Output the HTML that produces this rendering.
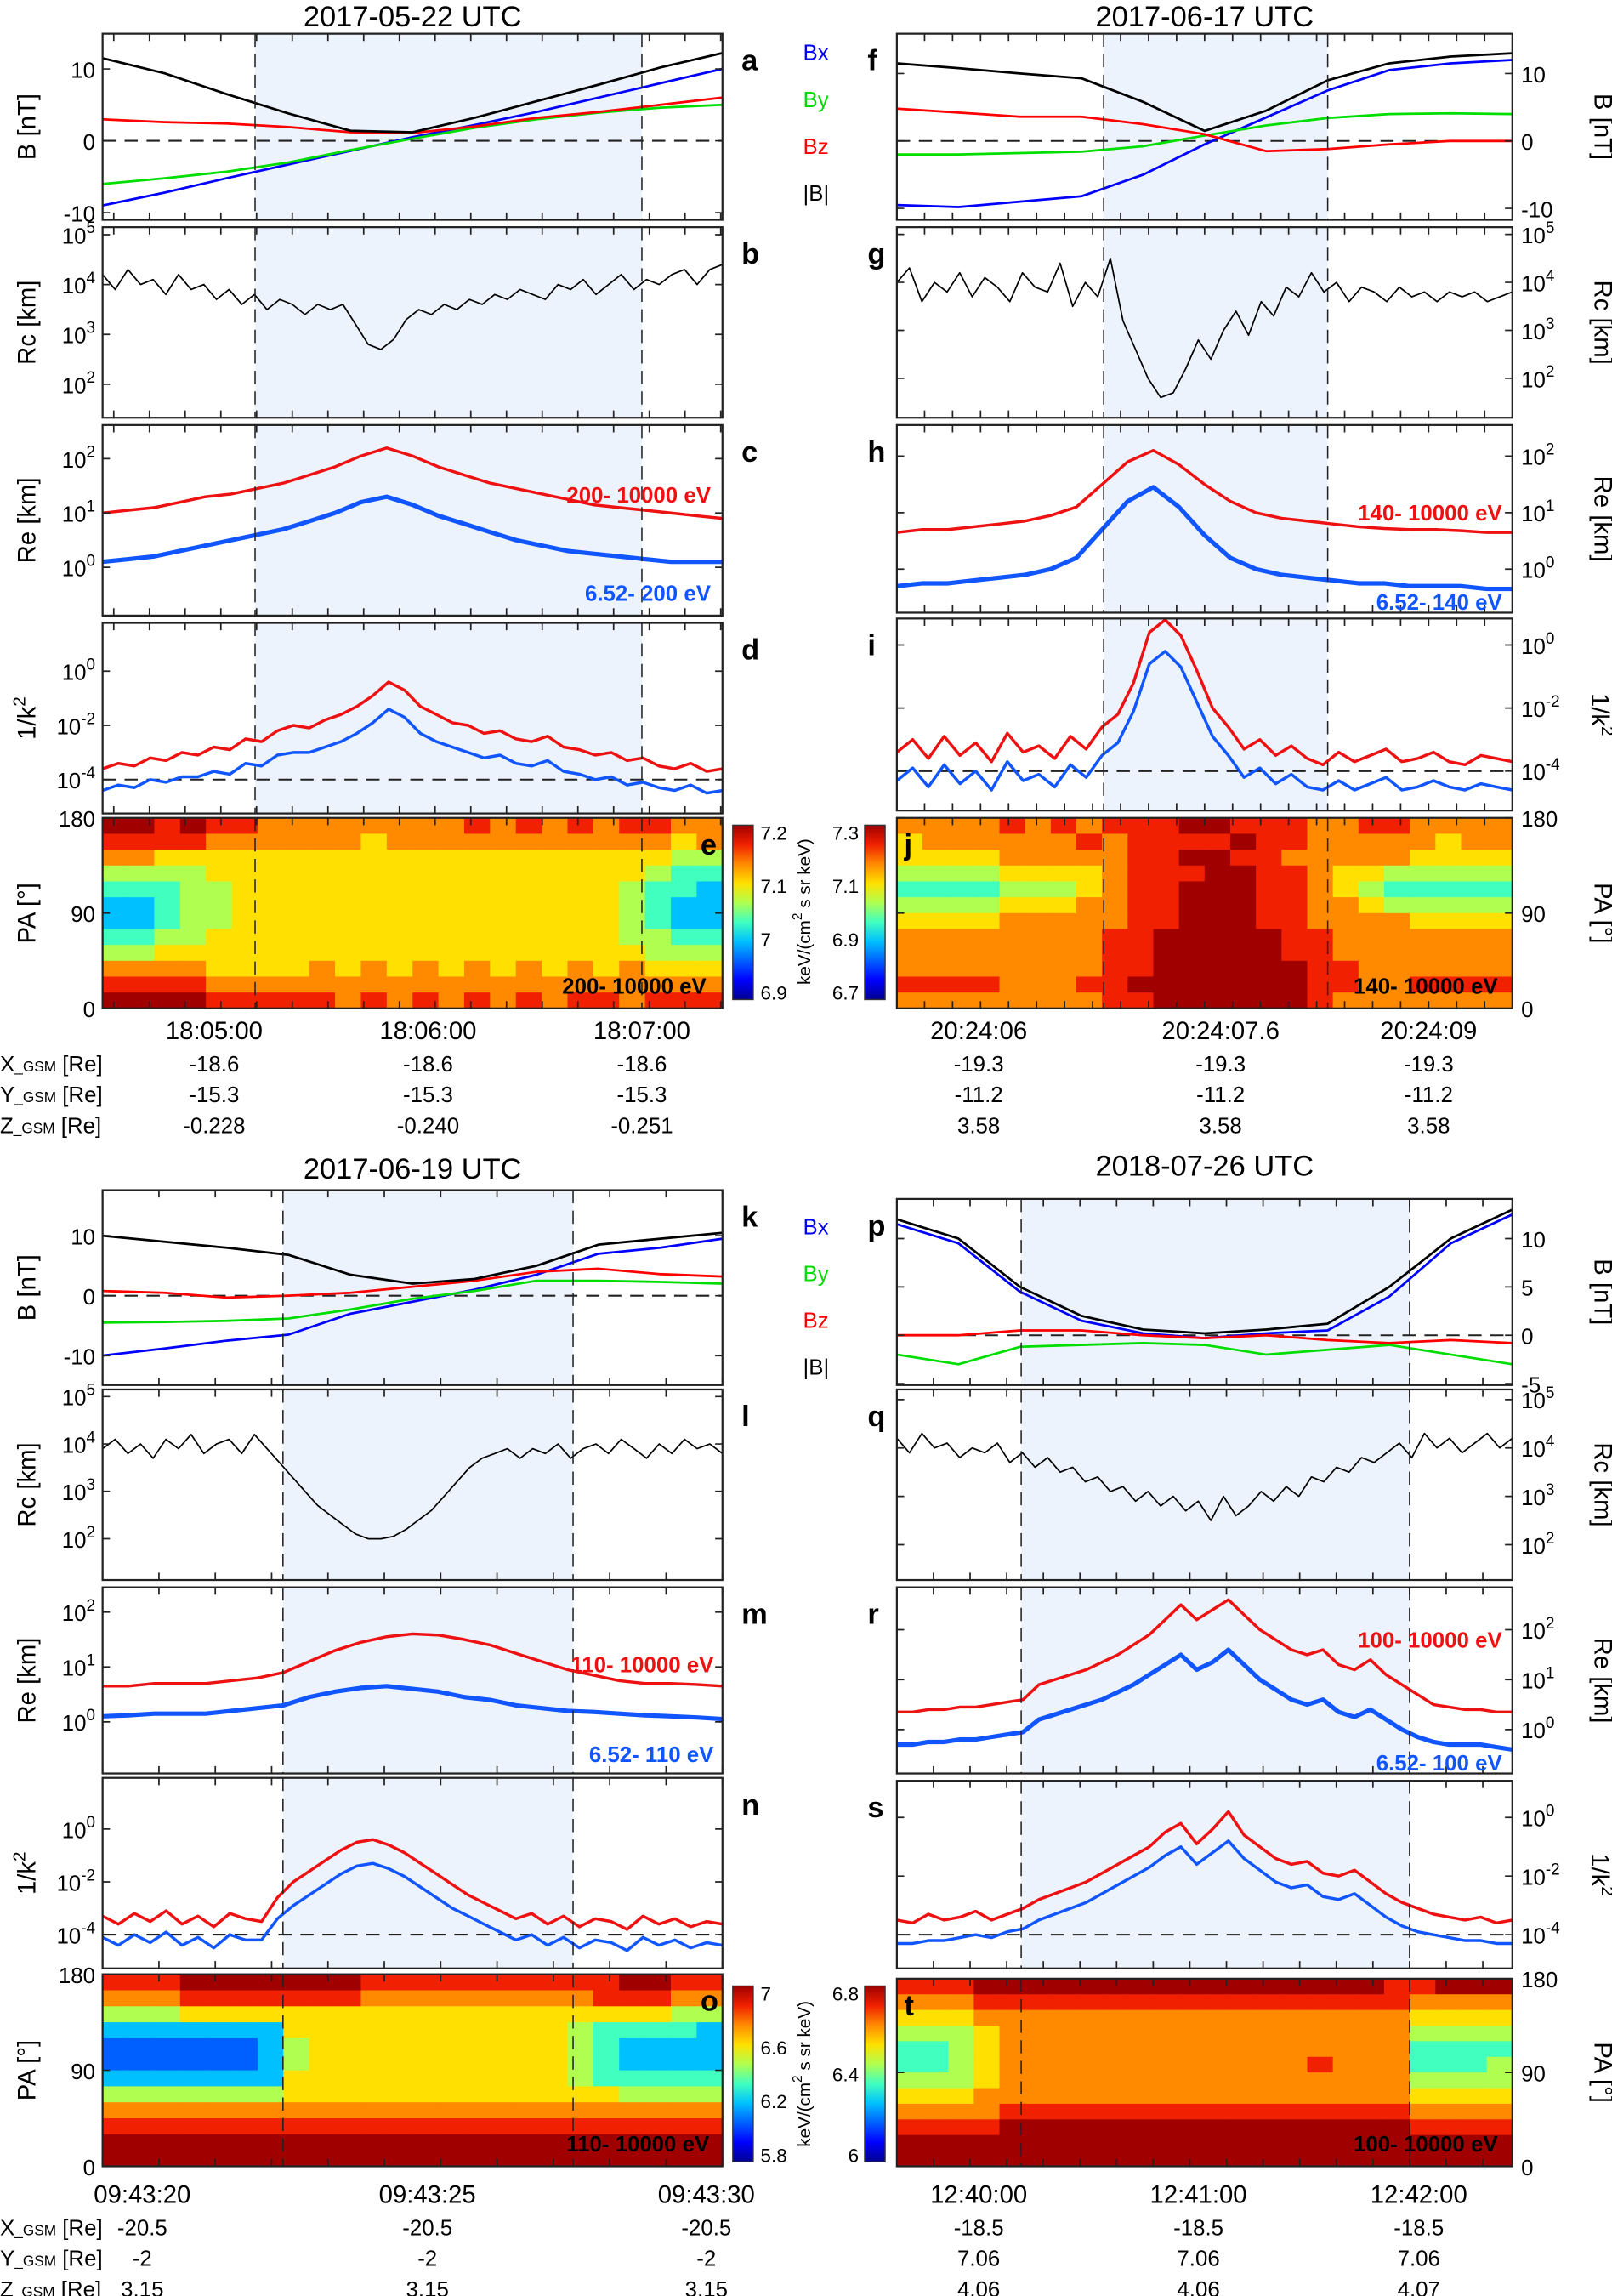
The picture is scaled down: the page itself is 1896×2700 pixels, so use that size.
<!DOCTYPE html>
<html><head><meta charset="utf-8">
<style>
html,body{margin:0;padding:0;background:#fff;}
svg{display:block;}
text{font-family:"Liberation Sans",sans-serif;}
</style></head>
<body>
<svg id="fig" xmlns="http://www.w3.org/2000/svg" width="1896" height="2700" viewBox="0 0 1100 1566.5" preserveAspectRatio="none"></svg>
<script>
// ===== DATA =====
const aBx=[-9,-7.2,-5.2,-3.3,-1.4,0.5,2.2,4,6,8,10];
const aBy=[-6,-5.2,-4.3,-3,-1.3,0.3,1.8,3,3.9,4.6,5];
const aBz=[3,2.6,2.4,1.9,1.2,1.1,2,3.2,4,5,6];
const aBt=[11.5,9.4,6.5,3.8,1.4,1.2,3.2,5.5,7.8,10.2,12.2];
const bRc=[4.2,3.9,4.3,4.0,4.1,3.8,4.2,3.9,4.0,3.7,3.9,3.6,3.8,3.5,3.7,3.6,3.4,3.6,3.5,3.6,3.2,2.8,2.7,2.9,3.3,3.5,3.4,3.6,3.5,3.7,3.6,3.8,3.7,3.9,3.8,3.7,4.0,3.9,4.1,3.8,4.0,4.2,3.9,4.1,4.0,4.2,4.3,4.0,4.3,4.4];
const cReHi=[1.0,1.05,1.1,1.2,1.3,1.35,1.45,1.55,1.7,1.85,2.05,2.2,2.05,1.85,1.7,1.55,1.45,1.35,1.25,1.15,1.1,1.05,1.0,0.95,0.9];
const cReLo=[0.1,0.15,0.2,0.3,0.4,0.5,0.6,0.7,0.85,1.0,1.2,1.3,1.15,0.95,0.8,0.65,0.5,0.4,0.3,0.25,0.2,0.15,0.1,0.1,0.1];
const dKHi=[-3.6,-3.4,-3.5,-3.2,-3.3,-3.0,-3.1,-2.8,-2.9,-2.5,-2.6,-2.2,-2.0,-2.1,-1.8,-1.6,-1.3,-0.9,-0.4,-0.7,-1.3,-1.6,-1.9,-2.0,-2.3,-2.2,-2.5,-2.6,-2.4,-2.8,-2.9,-3.1,-3.0,-3.3,-3.2,-3.5,-3.6,-3.4,-3.7,-3.6];
const dKLo=[-4.4,-4.2,-4.3,-4.0,-4.1,-3.9,-3.9,-3.7,-3.8,-3.4,-3.5,-3.1,-3.0,-3.0,-2.8,-2.6,-2.3,-1.9,-1.4,-1.7,-2.3,-2.6,-2.8,-3.0,-3.2,-3.1,-3.4,-3.5,-3.3,-3.7,-3.8,-4.0,-3.9,-4.2,-4.1,-4.3,-4.4,-4.2,-4.5,-4.4];
const eGrid=["998988777777778787878877","888877777767777777777767","776666666666666666666655","555566666666666666666544","444556666666666666665443","334556666666666666665433","334556666666666666665433","445566666666666666665544","556666666666666666666555","777766667676767676767666","888877777777777777777777","999988888787878787887888"];
const fBx=[-9.5,-9.8,-9,-8.2,-5,-0.5,3.5,7.5,10.5,11.5,12];
const fBy=[-2,-2,-1.8,-1.6,-0.8,0.8,2.3,3.4,4,4.1,4];
const fBz=[4.8,4.2,3.6,3.6,2.5,1,-1.5,-1.2,-0.5,0,0];
const fBt=[11.5,10.8,10,9.3,5.8,1.5,4.5,9,11.5,12.5,13];
const gRc=[4.0,4.3,3.6,4.0,3.8,4.2,3.7,4.1,3.9,3.6,4.2,3.9,3.8,4.4,3.5,4.0,3.7,4.5,3.2,2.6,2.0,1.6,1.7,2.2,2.8,2.4,3.0,3.4,2.9,3.6,3.3,3.9,3.7,4.2,3.8,4.0,3.6,3.9,3.8,3.6,3.9,3.7,3.8,3.6,3.8,3.7,3.8,3.6,3.7,3.8];
const hReHi=[0.65,0.7,0.7,0.75,0.8,0.85,0.95,1.1,1.5,1.9,2.1,1.85,1.5,1.2,1.0,0.9,0.85,0.8,0.75,0.72,0.7,0.7,0.68,0.65,0.65];
const hReLo=[-0.3,-0.25,-0.25,-0.2,-0.15,-0.1,0.0,0.2,0.7,1.2,1.45,1.1,0.6,0.2,0.0,-0.1,-0.15,-0.2,-0.25,-0.25,-0.3,-0.3,-0.3,-0.35,-0.35];
const iKHi=[-3.4,-3.0,-3.6,-2.9,-3.5,-3.1,-3.7,-2.8,-3.4,-3.2,-3.6,-2.9,-3.3,-2.6,-2.2,-1.2,0.4,0.8,0.3,-0.8,-2.0,-2.6,-3.3,-3.0,-3.5,-3.2,-3.6,-3.8,-3.4,-3.7,-3.5,-3.3,-3.7,-3.6,-3.4,-3.7,-3.8,-3.5,-3.6,-3.7];
const iKLo=[-4.3,-3.9,-4.5,-3.8,-4.4,-4.0,-4.6,-3.7,-4.3,-4.1,-4.5,-3.8,-4.2,-3.5,-3.1,-2.1,-0.6,-0.2,-0.7,-1.8,-2.9,-3.5,-4.2,-3.9,-4.4,-4.1,-4.5,-4.6,-4.3,-4.6,-4.4,-4.2,-4.6,-4.5,-4.3,-4.5,-4.6,-4.4,-4.5,-4.6];
const jGrid=["777787878889988877887777","677777787888898877777677","666677777889988777776666","555566667888998876655555","444455567889998876544444","555566677889998877655555","666677777889998877776666","777777778899999887777777","777777778899999887777777","777777778899999988777777","888877788999999988778888","777777778899999987777777"];
const kBx=[-10,-8.8,-7.5,-6.5,-3,-1,1,3.5,7,8,9.5];
const kBy=[-4.5,-4.4,-4.2,-3.8,-2.3,-0.5,0.8,2.5,2.5,2.3,2];
const kBz=[0.8,0.5,-0.3,0,0.5,1.5,2.5,4,4.5,3.6,3.2];
const kBt=[10,9,8,6.8,3.5,2,2.8,5,8.5,9.5,10.5];
const lRc=[3.9,4.1,3.8,4.0,3.7,4.1,3.9,4.2,3.8,4.0,4.1,3.8,4.2,3.9,3.6,3.3,3.0,2.7,2.5,2.3,2.1,2.0,2.0,2.05,2.2,2.4,2.6,2.9,3.2,3.5,3.7,3.8,3.9,3.7,3.9,3.8,4.0,3.7,3.9,4.0,3.8,4.1,3.9,3.7,4.0,3.8,4.1,3.9,4.0,3.8];
const mReHi=[0.65,0.65,0.7,0.7,0.7,0.75,0.8,0.9,1.1,1.3,1.45,1.55,1.6,1.58,1.5,1.4,1.25,1.1,0.95,0.85,0.75,0.7,0.7,0.68,0.65];
const mReLo=[0.1,0.12,0.15,0.15,0.15,0.2,0.25,0.3,0.45,0.55,0.62,0.65,0.6,0.55,0.45,0.4,0.3,0.25,0.2,0.18,0.15,0.12,0.1,0.08,0.05];
const nKHi=[-3.3,-3.6,-3.2,-3.5,-3.1,-3.6,-3.3,-3.7,-3.2,-3.4,-3.5,-2.6,-2.0,-1.6,-1.2,-0.8,-0.5,-0.4,-0.6,-0.9,-1.3,-1.7,-2.1,-2.5,-2.8,-3.1,-3.4,-3.2,-3.6,-3.3,-3.7,-3.4,-3.5,-3.8,-3.3,-3.6,-3.4,-3.7,-3.5,-3.6];
const nKLo=[-4.1,-4.4,-4.0,-4.3,-3.9,-4.4,-4.1,-4.5,-4.0,-4.2,-4.2,-3.4,-2.9,-2.5,-2.1,-1.7,-1.4,-1.3,-1.5,-1.8,-2.2,-2.6,-3.0,-3.3,-3.6,-3.9,-4.2,-4.0,-4.4,-4.1,-4.5,-4.2,-4.3,-4.6,-4.1,-4.4,-4.2,-4.5,-4.3,-4.4];
const oGrid=["888999999988888888889988","777888888877777777788877","555666666666666666666655","333333366666666666544443","222222356666666666543333","222222356666666666543333","333333366666666666544444","555555566666666666665555","777777777777777777777777","888888888888888888888888","999999999999999999999999","999999999999999999999999"];
const pBx=[11.5,9.5,4.5,1.5,0.2,-0.3,0.2,0.5,4,9.5,12.5];
const pBy=[-2,-3,-1.2,-1,-0.8,-1,-2,-1.5,-1,-2,-3];
const pBz=[0,0,0.5,0.5,0,-0.3,0,-0.5,-0.8,-0.5,-0.8];
const pBt=[12,10,5,2,0.6,0.2,0.6,1.2,5,10,13];
const qRc=[4.2,3.9,4.3,4.0,4.1,3.8,4.0,3.9,4.1,3.7,3.9,3.6,3.8,3.5,3.6,3.3,3.4,3.1,3.2,2.9,3.1,2.8,3.0,2.7,2.9,2.5,3.0,2.6,2.8,3.1,2.9,3.2,3.0,3.4,3.3,3.6,3.5,3.8,3.7,3.9,4.1,3.8,4.3,4.0,4.2,3.9,4.1,4.3,4.0,4.2];
const rReHi=[0.35,0.35,0.4,0.4,0.45,0.45,0.5,0.55,0.6,0.9,1.0,1.1,1.2,1.35,1.5,1.7,1.9,2.2,2.5,2.2,2.4,2.6,2.3,2.0,1.8,1.6,1.5,1.6,1.3,1.2,1.4,1.1,0.9,0.7,0.5,0.45,0.4,0.4,0.35,0.35];
const rReLo=[-0.3,-0.3,-0.25,-0.25,-0.2,-0.2,-0.15,-0.1,-0.05,0.2,0.3,0.4,0.5,0.6,0.75,0.9,1.1,1.3,1.5,1.2,1.35,1.6,1.3,1.0,0.8,0.6,0.5,0.6,0.35,0.25,0.4,0.2,0.0,-0.15,-0.25,-0.3,-0.3,-0.3,-0.35,-0.4];
const sKHi=[-3.5,-3.6,-3.3,-3.5,-3.4,-3.2,-3.5,-3.3,-3.1,-2.8,-2.6,-2.4,-2.2,-1.9,-1.6,-1.3,-1.0,-0.5,-0.2,-0.9,-0.4,0.2,-0.6,-1.0,-1.4,-1.6,-1.5,-1.9,-2.0,-1.8,-2.2,-2.6,-2.9,-3.1,-3.3,-3.4,-3.5,-3.4,-3.6,-3.5];
const sKLo=[-4.3,-4.3,-4.2,-4.2,-4.1,-4.0,-4.1,-3.9,-3.8,-3.5,-3.3,-3.1,-2.9,-2.6,-2.3,-2.0,-1.7,-1.3,-1.0,-1.6,-1.2,-0.8,-1.4,-1.8,-2.2,-2.4,-2.3,-2.7,-2.8,-2.6,-3.0,-3.4,-3.7,-3.9,-4.0,-4.1,-4.2,-4.2,-4.3,-4.3];
const tGrid=["888999999999999999988999","777888888888888888887777","666777777777777777776666","555677777777777777775555","445677777777777777774444","445677777777777787774445","555677777777777777775555","666777777777777777776666","777788888888888888887777","888899999999999999998888","999999999999999999999999","999999999999999999999999"];
const timeLblA=["18:05:00","18:06:00","18:07:00"];
const timeLblF=["20:24:06","20:24:07.6","20:24:09"];
const timeLblK=["09:43:20","09:43:25","09:43:30"];
const timeLblP=["12:40:00","12:41:00","12:42:00"];
const ephA=[["-18.6","-18.6","-18.6"],["-15.3","-15.3","-15.3"],["-0.228","-0.240","-0.251"]];
const ephF=[["-19.3","-19.3","-19.3"],["-11.2","-11.2","-11.2"],["3.58","3.58","3.58"]];
const ephK=[["-20.5","-20.5","-20.5"],["-2","-2","-2"],["3.15","3.15","3.15"]];
const ephP=[["-18.5","-18.5","-18.5"],["7.06","7.06","7.06"],["4.06","4.06","4.07"]];
const cbTicksE=["7.2","7.1","7","6.9"];
const cbTicksJ=["7.3","7.1","6.9","6.7"];
const cbTicksO=["7","6.6","6.2","5.8"];
const cbTicksT=["6.8","6.4","6"];

// ===== RENDER =====
const NS='http://www.w3.org/2000/svg';
const svg=document.getElementById('fig');
const JET=['#00008f','#0000ff','#0060ff','#00c0ff','#40ffbf','#b0ff50','#ffe000','#ff8a00','#f02000','#a00000'];
function mk(tag,attrs,parent){const e=document.createElementNS(NS,tag);for(const k in attrs)e.setAttribute(k,attrs[k]);(parent||svg).appendChild(e);return e;}
function txt(x,y,s,opts,name){
  const e=mk('text',Object.assign({x:x,y:y,'font-size':15},opts||{}));
  e.textContent=s;
  
  
  return e;}
function pw(x,y,exp,anchor,name){
  const e=mk('text',{x:x,y:y,'font-size':15,'text-anchor':anchor});
  
  
  const a=document.createElementNS(NS,'tspan');a.textContent='10';e.appendChild(a);
  const b=document.createElementNS(NS,'tspan');b.setAttribute('dy','-7');b.setAttribute('font-size','11');b.textContent=exp;e.appendChild(b);
  return e;}
function axis(P){return {sx:f=>P.x0+f*(P.x1-P.x0), sy:v=>P.y1-(v-P.lo)/(P.hi-P.lo)*(P.y1-P.y0)};}

function panel(G,P,name){
  const A=axis(P);
  const g=mk('g',{});
  
  
  if(!P.heat){
    const sh=mk('rect',{x:A.sx(G.shade[0]),y:P.y0,width:A.sx(G.shade[1])-A.sx(G.shade[0]),height:P.y1-P.y0,fill:'#ecf3fd'},g);
    
    
  }
  return {A,g};
}
function frame(G,P,name,g,A){
  const r=mk('rect',{x:P.x0,y:P.y0,width:P.x1-P.x0,height:P.y1-P.y0,fill:'none',stroke:'#222','stroke-width':1.3},g);
  
  
  for(const f of G.shade){
    const l=mk('line',{x1:A.sx(f),x2:A.sx(f),y1:P.y0,y2:P.y1,stroke:'#222','stroke-width':0.9,'stroke-dasharray':'9,5'},g);
    
    
  }
  for(let i=0;i<=G.nMinor;i++){
    const f=G.tick0+i*G.tickStep; if(f>1) break;
    const x=A.sx(f);
    const t=mk('path',{d:`M${x},${P.y1}v-5M${x},${P.y0}v5`,stroke:'#222','stroke-width':1},g);
    
    
  }
}
function yTicks(G,P,A,g,vals,name,log){
  const right=G.side==='right';
  for(const v of vals){
    const y=A.sy(v);
    const t=mk('path',{d:`M${P.x0},${y}h5M${P.x1},${y}h-5`,stroke:'#222','stroke-width':1},g);
    
    
    const lx=right?P.x1+6:P.x0-5, anc=right?'start':'end';
    if(log) pw(lx,y+6,String(v),anc,name+'-y-tick-label');
    else txt(lx,y+6,String(v),{'text-anchor':anc},name+'-y-tick-label');
  }
}
function yTitle(G,P,s,name){
  const cy=(P.y0+P.y1)/2;
  if(G.side==='right'){
    txt(1088,cy,s,{'text-anchor':'middle','font-size':17,transform:`rotate(90 1088 ${cy})`},name);
  } else {
    txt(24,cy,s,{'text-anchor':'middle','font-size':17,transform:`rotate(-90 24 ${cy})`},name);
  }
}
function series(P,A,g,arr,color,w,name){
  const n=arr.length;
  const pts=arr.map((v,i)=>A.sx(i/(n-1)).toFixed(1)+','+A.sy(v).toFixed(1)).join(' ');
  const l=mk('polyline',{points:pts,fill:'none',stroke:color,'stroke-width':w,'stroke-linejoin':'round'},g);
  
  
}
function hline(P,A,g,v,name){
  const l=mk('line',{x1:P.x0,x2:P.x1,y1:A.sy(v),y2:A.sy(v),stroke:'#222','stroke-width':1.2,'stroke-dasharray':'9,6'},g);
  
  
}
function heat(P,A,g,grid,name){
  const rows=grid.length, cols=grid[0].length;
  const cw=(P.x1-P.x0)/cols, ch=(P.y1-P.y0)/rows;
  grid.forEach((row,r)=>{
    for(let c=0;c<cols;c++){
      const v=+row[c];
      const rc=mk('rect',{x:(A.sx(c/cols)).toFixed(2),y:(P.y0+r*ch).toFixed(2),width:(cw+0.4).toFixed(2),height:(ch+0.4).toFixed(2),fill:JET[v]},g);
      
      
    }
  });
}
function letter(G,P,s,inside){
  let x=G.side==='right'?592:506;
  if(inside) x=G.side==='right'?617:478;
  txt(x,P.y0+25,s,{'font-weight':'bold','font-size':20},'panel-label-'+s);
}
function colorbar(x,y0,y1,labels,left,name){
  const id='grad'+name;
  const defs=mk('defs',{});
  const lg=mk('linearGradient',{id:id,x1:0,y1:1,x2:0,y2:0},defs);
  JET.forEach((c,i)=>mk('stop',{offset:(i/9),'stop-color':c},lg));
  const r=mk('rect',{x:x,y:y0,width:14,height:y1-y0,fill:`url(#${id})`,stroke:'#333','stroke-width':0.8});
  
  
  const n=labels.length;
  labels.forEach((s,i)=>{
    const y=y0+5+i*(y1-y0-10)/(n-1);
    txt(left?x-4:x+19,y+5,s,{'text-anchor':left?'end':'start','font-size':13},name+'-tick-label');
  });
}

function group(G){
  txt((G.x0+G.x1)/2,G.titleY,G.title,{'text-anchor':'middle','font-size':20},'title-'+G.key);
  const base={x0:G.x0,x1:G.x1};
  let P=Object.assign({},base,G.pB); let o=panel(G,P,'b-field-panel-'+G.key);
  hline(P,o.A,o.g,0,'zero-line');
  series(P,o.A,o.g,G.B[0],'#0000ff',1.6,'bx-line');
  series(P,o.A,o.g,G.B[1],'#00dd00',1.6,'by-line');
  series(P,o.A,o.g,G.B[2],'#ff0000',1.6,'bz-line');
  series(P,o.A,o.g,G.B[3],'#000000',1.6,'btotal-line');
  frame(G,P,'b-field-panel',o.g,o.A); yTicks(G,P,o.A,o.g,G.bTicks,'b-field',false);
  yTitle(G,P,'B [nT]','b-field-y-title'); letter(G,P,G.L[0]);
  P=Object.assign({},base,G.pRc); o=panel(G,P,'rc-panel-'+G.key);
  series(P,o.A,o.g,G.Rc,'#000',1,'rc-line');
  frame(G,P,'rc-panel',o.g,o.A); yTicks(G,P,o.A,o.g,[5,4,3,2],'rc',true);
  yTitle(G,P,'Rc  [km]','rc-y-title'); letter(G,P,G.L[1]);
  P=Object.assign({},base,G.pRe); o=panel(G,P,'re-panel-'+G.key);
  series(P,o.A,o.g,G.Re[0],'#ee1111',2,'re-high-energy-line');
  series(P,o.A,o.g,G.Re[1],'#1155ff',3,'re-low-energy-line');
  frame(G,P,'re-panel',o.g,o.A); yTicks(G,P,o.A,o.g,[2,1,0],'re',true);
  yTitle(G,P,'Re  [km]','re-y-title'); letter(G,P,G.L[2]);
  txt(G.lblX,G.reLblY[0],G.eHi,{'text-anchor':'end',fill:'#ee1111','font-weight':'bold','font-size':15},'re-high-energy-label');
  txt(G.lblX,G.reLblY[1],G.eLo,{'text-anchor':'end',fill:'#1155ff','font-weight':'bold','font-size':15},'re-low-energy-label');
  P=Object.assign({},base,G.pK); o=panel(G,P,'kappa-panel-'+G.key);
  hline(P,o.A,o.g,-4,'kappa-threshold-line');
  series(P,o.A,o.g,G.K[0],'#ee1111',2,'kappa-high-energy-line');
  series(P,o.A,o.g,G.K[1],'#1155ff',2,'kappa-low-energy-line');
  frame(G,P,'kappa-panel',o.g,o.A); yTicks(G,P,o.A,o.g,[0,-2,-4],'kappa',true);
  const cy=(P.y0+P.y1)/2, tx=G.side==='right'?1086:24;
  const kt=mk('text',{x:tx,y:cy,'font-size':17,'text-anchor':'middle',transform:`rotate(${G.side==='right'?90:-90} ${tx} ${cy})`});
  
  
  kt.innerHTML='1/k<tspan dy="-7" font-size="12">2</tspan>';
  letter(G,P,G.L[3]);
  P=Object.assign({},base,G.pPA,{heat:true,lo:0,hi:180}); o=panel(G,P,'pitch-angle-panel-'+G.key);
  heat(P,o.A,o.g,G.grid,'pitch-angle-spectrogram');
  frame(G,P,'pitch-angle-panel',o.g,o.A); yTicks(G,P,o.A,o.g,[180,90,0],'pa',false);
  yTitle(G,P,'PA [°]','pa-y-title'); letter(G,P,G.L[4],true);
  txt(G.lblX-3,P.y1-10,G.eHi,{'text-anchor':'end','font-weight':'bold','font-size':15},'spectrogram-energy-label');
  G.tTicks.forEach((f,i)=>{
    txt(o.A.sx(f),G.timeY,G.tLbl[i],{'text-anchor':'middle','font-size':17},'time-tick-label');
    G.eph.forEach((row,j)=>txt(o.A.sx(f),G.timeY+22+j*21,row[i],{'text-anchor':'middle','font-size':15},'ephemeris-value'));
  });
  if(G.side==='left'){
    ['X','Y','Z'].forEach((c,j)=>{
      const e=mk('text',{x:0,y:G.timeY+22+j*21,'font-size':15});
      
      
      e.innerHTML=c+'<tspan font-size="10">_GSM</tspan> [Re]';
    });
  }
}
function legend(y0){
  [['Bx','#0000ff'],['By','#00dd00'],['Bz','#ff0000'],['|B|','#000']].forEach((l,i)=>
    txt(548,y0+i*32,l[0],{fill:l[1],'font-size':15},'legend-entry-'+l[0].replace(/\|/g,'').toLowerCase()));
}

group({key:'2017-05-22',title:'2017-05-22 UTC',titleY:18,x0:70,x1:493,side:'left',shade:[0.246,0.87],
  tick0:0.018,tickStep:0.0576,nMinor:17,L:['a','b','c','d','e'],
  pB:{y0:23,y1:150,lo:-11,hi:14.9},pRc:{y0:155,y1:285,lo:1.33,hi:5.15},pRe:{y0:290,y1:420,lo:-0.89,hi:2.62},
  pK:{y0:425,y1:555,lo:-5.25,hi:1.78},pPA:{y0:558,y1:688},
  B:[aBx,aBy,aBz,aBt],bTicks:[10,0,-10],Rc:bRc,Re:[cReHi,cReLo],K:[dKHi,dKLo],grid:eGrid,
  lblX:485,reLblY:[343,410],eHi:'200- 10000 eV',eLo:'6.52- 200 eV',
  tTicks:[0.18,0.525,0.87],tLbl:timeLblA,eph:ephA,timeY:709});
group({key:'2017-06-17',title:'2017-06-17 UTC',titleY:18,x0:612,x1:1032,side:'right',shade:[0.336,0.7],
  tick0:0.045,tickStep:0.0455,nMinor:21,L:['f','g','h','i','j'],
  pB:{y0:23,y1:150,lo:-11.7,hi:15.9},pRc:{y0:155,y1:285,lo:1.18,hi:5.15},pRe:{y0:290,y1:418,lo:-0.77,hi:2.55},
  pK:{y0:422,y1:553,lo:-5.25,hi:0.84},pPA:{y0:558,y1:688},
  B:[fBx,fBy,fBz,fBt],bTicks:[10,0,-10],Rc:gRc,Re:[hReHi,hReLo],K:[iKHi,iKLo],grid:jGrid,
  lblX:1025,reLblY:[355,416],eHi:'140- 10000 eV',eLo:'6.52- 140 eV',
  tTicks:[0.133,0.526,0.864],tLbl:timeLblF,eph:ephF,timeY:709});
group({key:'2017-06-19',title:'2017-06-19 UTC',titleY:804,x0:70,x1:493,side:'left',shade:[0.291,0.759],
  tick0:0.0,tickStep:0.0909,nMinor:11,L:['k','l','m','n','o'],
  pB:{y0:812,y1:945,lo:-14.9,hi:17.6},pRc:{y0:948,y1:1078,lo:1.13,hi:5.15},pRe:{y0:1083,y1:1210,lo:-0.94,hi:2.45},
  pK:{y0:1213,y1:1343,lo:-5.28,hi:1.94},pPA:{y0:1347,y1:1478},
  B:[kBx,kBy,kBz,kBt],bTicks:[10,0,-10],Rc:lRc,Re:[mReHi,mReLo],K:[nKHi,nKLo],grid:oGrid,
  lblX:487,reLblY:[1141,1202],eHi:'110- 10000 eV',eLo:'6.52- 110 eV',
  tTicks:[0.064,0.524,0.974],tLbl:timeLblK,eph:ephK,timeY:1503});
group({key:'2018-07-26',title:'2018-07-26 UTC',titleY:802,x0:612,x1:1032,side:'right',shade:[0.202,0.833],
  tick0:0.0,tickStep:0.0595,nMinor:17,L:['p','q','r','s','t'],
  pB:{y0:818,y1:945,lo:-5.15,hi:14.1},pRc:{y0:948,y1:1078,lo:1.27,hi:5.21},pRe:{y0:1083,y1:1210,lo:-0.88,hi:2.85},
  pK:{y0:1215,y1:1343,lo:-5.15,hi:1.25},pPA:{y0:1350,y1:1478},
  B:[pBx,pBy,pBz,pBt],bTicks:[10,5,0,-5],Rc:qRc,Re:[rReHi,rReLo],K:[sKHi,sKLo],grid:tGrid,
  lblX:1025,reLblY:[1124,1208],eHi:'100- 10000 eV',eLo:'6.52- 100 eV',
  tTicks:[0.133,0.49,0.848],tLbl:timeLblP,eph:ephP,timeY:1503});
legend(41); legend(842);
colorbar(500,563,682,cbTicksE,false,'colorbar-e');
colorbar(590,563,682,cbTicksJ,true,'colorbar-j');
colorbar(500,1355,1475,cbTicksO,false,'colorbar-o');
colorbar(590,1355,1475,cbTicksT,true,'colorbar-t');
[[553,622],[553,1415]].forEach(([x,y])=>{
  const e=mk('text',{x:x,y:y,'font-size':12,'text-anchor':'middle',transform:`rotate(-90 ${x} ${y})`});
  
  
  e.innerHTML='keV/(cm<tspan dy="-6" font-size="9">2</tspan><tspan dy="6"> s sr keV)</tspan>';
});
</script>
</body></html>
